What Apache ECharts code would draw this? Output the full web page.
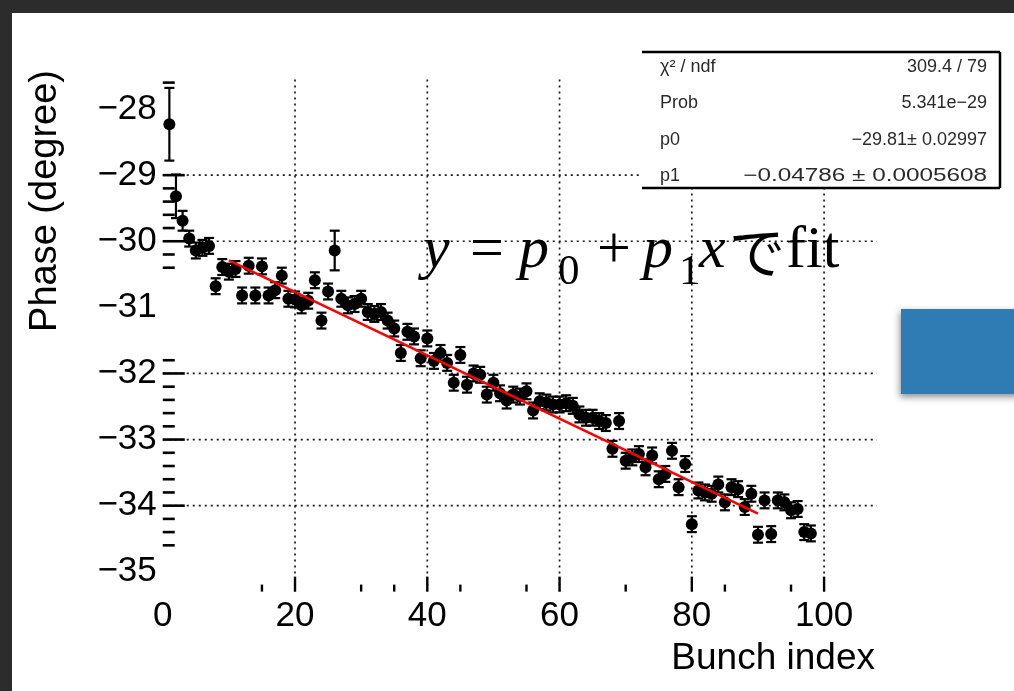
<!DOCTYPE html>
<html><head><meta charset="utf-8">
<script src="https://cdn.jsdelivr.net/npm/echarts@6/dist/echarts.min.js"></script>
<style>html,body{margin:0;padding:0;background:#fff}#c{width:1014px;height:691px}</style>
</head><body><div id="c"></div>
<script>
// ---------------- data ----------------
const bunch = [1,2,3,4,5,6,7,8,9,10,11,12,13,14,15,16,17,18,19,20,21,22,23,24,25,26,27,28,29,30,31,32,33,34,35,36,37,38,39,40,41,42,43,44,45,46,47,48,49,50,51,52,53,54,55,56,57,58,59,60,61,62,63,64,65,66,67,68,69,70,71,72,73,74,75,76,77,78,79,80,81,82,83,84,85,86,87,88,89,90,91,92,93,94,95,96,97,98];
const phase = [-28.23,-29.32,-29.69,-29.96,-30.14,-30.10,-30.07,-30.68,-30.39,-30.46,
  -30.42,-30.82,-30.37,-30.82,-30.38,-30.82,-30.74,-30.52,-30.87,-30.88,
  -30.97,-30.90,-30.59,-31.20,-30.76,-30.14,-30.87,-30.97,-30.95,-30.87,
  -31.07,-31.10,-31.07,-31.20,-31.32,-31.69,-31.37,-31.44,-31.77,-31.47,
  -31.81,-31.69,-31.84,-32.14,-31.72,-32.17,-32.00,-32.02,-32.32,-32.14,
  -32.30,-32.41,-32.32,-32.35,-32.27,-32.56,-32.42,-32.44,-32.47,-32.47,
  -32.45,-32.49,-32.62,-32.67,-32.67,-32.72,-32.75,-33.14,-32.72,-33.32,
  -33.27,-33.22,-33.42,-33.24,-33.60,-33.52,-33.17,-33.72,-33.37,-34.28,
  -33.77,-33.80,-33.82,-33.68,-33.95,-33.72,-33.75,-34.02,-33.82,-34.44,
  -33.92,-34.43,-33.92,-33.95,-34.07,-34.05,-34.40,-34.42];
const phaseErr = [0.55,0.33,0.15,0.12,0.12,0.12,0.12,0.12,0.12,0.12,
  0.12,0.12,0.12,0.12,0.12,0.12,0.12,0.12,0.12,0.12,
  0.12,0.12,0.12,0.12,0.12,0.30,0.12,0.12,0.12,0.12,
  0.12,0.12,0.12,0.12,0.12,0.12,0.12,0.12,0.12,0.12,
  0.12,0.12,0.12,0.12,0.12,0.12,0.12,0.12,0.12,0.12,
  0.12,0.12,0.12,0.12,0.12,0.12,0.12,0.12,0.12,0.12,
  0.12,0.12,0.12,0.12,0.12,0.12,0.12,0.12,0.12,0.12,
  0.12,0.12,0.12,0.12,0.12,0.12,0.12,0.12,0.12,0.12,
  0.12,0.12,0.12,0.12,0.12,0.12,0.12,0.12,0.12,0.12,
  0.12,0.12,0.12,0.12,0.12,0.12,0.12,0.12];
const fitX = [10, 90];
const fitY = [-30.29, -34.12];
const xLabels = [0, 20, 40, 60, 80, 100];
const yLabels = [-28, -29, -30, -31, -32, -33, -34, -35];
const xGrid = [20, 40, 60, 80, 100];
const yGrid = [-29, -30, -32, -33, -34];
const xMajorTicks = [20, 40, 60, 80, 100];
const xMinorTicks = [15, 30, 35, 45, 55, 70, 85, 95];
const yMajorTicks = [-29, -30, -32, -33, -34];
const yMinorTicks = [-27.6, -29.2, -29.4, -29.6, -29.8, -30.2, -30.4, -31.8, -32.2, -32.4, -32.6, -32.8, -33.2, -33.4, -33.6, -33.8, -34.2, -34.4, -34.6];
const statsRows = [['χ² / ndf', '309.4 / 79'], ['Prob', '5.341e−29'], ['p0', '−29.81± 0.02997'], ['p1', '−0.04786 ± 0.0005608']];
const xTitle = 'Bunch index';
const yTitle = 'Phase (degree)';

// ---------------- layout ----------------
const X_MIN = 0, X_MAX = 108, Y_MIN = -35.3, Y_MAX = -27.5;
const SANS = 'Liberation Sans, Arial, Helvetica, sans-serif';
const SERIF = 'Liberation Serif, Times New Roman, serif';
const minus = v => String(v).replace('-', '\u2212');

const chart = echarts.init(document.getElementById('c'), null, {renderer: 'canvas'});

function hLine(params, api) {
  const v = api.value(1);
  const a = api.coord([X_MIN, v]), b = api.coord([X_MAX, v]);
  return {type: 'line', shape: {x1: a[0], y1: a[1], x2: b[0], y2: b[1]},
    style: {stroke: '#1a1a1a', lineWidth: 1.7, lineDash: [2, 4]}};
}
function vLine(params, api) {
  const v = api.value(0);
  const a = api.coord([v, Y_MIN]), b = api.coord([v, Y_MAX]);
  return {type: 'line', shape: {x1: a[0], y1: a[1], x2: b[0], y2: b[1]},
    style: {stroke: '#1a1a1a', lineWidth: 1.7, lineDash: [2, 4]}};
}
function yTick(len) {
  return function (params, api) {
    const p = api.coord([X_MIN, api.value(1)]);
    return {type: 'line', shape: {x1: p[0], y1: p[1], x2: p[0] + len, y2: p[1]},
      style: {stroke: '#000', lineWidth: 2.6}};
  };
}
function xTick(len) {
  return function (params, api) {
    const p = api.coord([api.value(0), Y_MIN]);
    return {type: 'line', shape: {x1: p[0], y1: p[1], x2: p[0], y2: p[1] - len},
      style: {stroke: '#000', lineWidth: 2.4}};
  };
}
function errBar(params, api) {
  const x = api.value(0), y = api.value(1), e = api.value(2);
  const t = api.coord([x, y + e]), b = api.coord([x, y - e]);
  const w = 5;
  const st = {stroke: '#000', lineWidth: 2.2};
  return {type: 'group', children: [
    {type: 'line', shape: {x1: t[0], y1: t[1], x2: b[0], y2: b[1]}, style: st},
    {type: 'line', shape: {x1: t[0] - w, y1: t[1], x2: t[0] + w, y2: t[1]}, style: st},
    {type: 'line', shape: {x1: b[0] - w, y1: b[1], x2: b[0] + w, y2: b[1]}, style: st}
  ]};
}

const points = bunch.map((b, i) => [b, phase[i]]);
const errs = bunch.map((b, i) => [b, phase[i], phaseErr[i]]);

// formula pieces
const fSize = 60, subSize = 43, mainY = 251, subY = 273;
const formula = [
  {t: 'y', x: 423, y: mainY, it: true},
  {t: '=', x: 470, y: mainY},
  {t: 'p', x: 519, y: mainY, it: true},
  {t: '0', x: 558, y: subY, s: subSize},
  {t: '+', x: 597, y: mainY},
  {t: 'p', x: 643, y: mainY, it: true},
  {t: '1', x: 679, y: subY, s: subSize},
  {t: 'x', x: 699, y: mainY, it: true},
  {t: 'で', x: 729, y: mainY + 1, s: 56, f: 'Noto Sans CJK JP'},
  {t: 'fit', x: 786, y: mainY}
].map(o => ({type: 'text', x: o.x, y: o.y, z: 60, style: {
  text: o.t, fill: '#000', fontSize: o.s || fSize, fontFamily: o.f || SERIF,
  fontStyle: o.it ? 'italic' : 'normal', align: 'left', verticalAlign: 'middle'}}));

// stats box
const BX = 642, BY = 52, BW = 358, BH = 136;
const statsEls = [
  {type: 'rect', shape: {x: BX, y: BY, width: BW, height: BH}, style: {fill: '#fff'}, z: 50},
  {type: 'line', shape: {x1: BX, y1: BY, x2: BX + BW, y2: BY}, style: {stroke: '#000', lineWidth: 2.5}, z: 51},
  {type: 'line', shape: {x1: BX, y1: BY + BH, x2: BX + BW, y2: BY + BH}, style: {stroke: '#000', lineWidth: 2.5}, z: 51},
  {type: 'line', shape: {x1: BX + BW, y1: BY, x2: BX + BW, y2: BY + BH}, style: {stroke: '#000', lineWidth: 2.5}, z: 51}
];
const valueStretch = [1, 1, 1, 1.35];
statsRows.forEach((r, i) => {
  const cy = BY + 15 + i * 36.5;
  statsEls.push({type: 'text', x: 660, y: cy, z: 52, style: {text: r[0], fill: '#2a2a2a', fontSize: 18, fontFamily: SANS, align: 'left', verticalAlign: 'middle'}});
  statsEls.push({type: 'text', x: 987, y: cy, z: 52, scaleX: valueStretch[i], style: {text: r[1], fill: '#2a2a2a', fontSize: 18, fontFamily: SANS, align: 'right', verticalAlign: 'middle'}});
});

const option = {
  backgroundColor: '#fff',
  animation: false,
  grid: {left: 162.75, right: 137, top: 76, bottom: 99.4, outerBoundsMode: 'none', containLabel: false},
  xAxis: {type: 'value', min: X_MIN, max: X_MAX,
    axisLine: {show: false}, axisTick: {show: false}, splitLine: {show: false},
    axisLabel: {customValues: xLabels, fontSize: 35, color: '#000', fontFamily: SANS, margin: 7, formatter: minus}},
  yAxis: {type: 'value', min: Y_MIN, max: Y_MAX,
    axisLine: {show: false}, axisTick: {show: false}, splitLine: {show: false},
    axisLabel: {customValues: yLabels, fontSize: 35, color: '#000', fontFamily: SANS, margin: 6, formatter: minus}},
  series: [
    {type: 'custom', name: 'ygrid', renderItem: hLine, data: yGrid.map(v => [X_MIN, v]), z: 1, silent: true},
    {type: 'custom', name: 'xgrid', renderItem: vLine, data: xGrid.map(v => [v, Y_MIN]), z: 1, silent: true},
    {type: 'custom', name: 'yMaj', renderItem: yTick(22), data: yMajorTicks.map(v => [X_MIN, v]), z: 2, silent: true},
    {type: 'custom', name: 'yMin', renderItem: yTick(12), data: yMinorTicks.map(v => [X_MIN, v]), z: 2, silent: true},
    {type: 'custom', name: 'xMaj', renderItem: xTick(15), data: xMajorTicks.map(v => [v, Y_MIN]), z: 2, silent: true},
    {type: 'custom', name: 'xMin', renderItem: xTick(7), data: xMinorTicks.map(v => [v, Y_MIN]), z: 2, silent: true},
    {type: 'custom', name: 'err', renderItem: errBar, data: errs, z: 3, silent: true},
    {type: 'scatter', name: 'phase', data: points, symbol: 'circle', symbolSize: 12,
      itemStyle: {color: '#000', opacity: 1}, z: 4, silent: true},
    {type: 'line', name: 'fit', data: fitX.map((x, i) => [x, fitY[i]]), showSymbol: false,
      lineStyle: {color: '#ff0000', width: 2.6, opacity: 1}, z: 5, silent: true}
  ],
  graphic: [
    {type: 'rect', shape: {x: 0, y: 0, width: 12, height: 691}, style: {fill: '#2c2c2c'}, z: 100},
    {type: 'rect', shape: {x: 0, y: 0, width: 1014, height: 13}, style: {fill: '#2c2c2c'}, z: 100},
    {type: 'rect', shape: {x: 901, y: 309, width: 120, height: 85}, z: 90,
      style: {fill: '#2f7bb4', shadowBlur: 7, shadowColor: 'rgba(0,0,0,0.45)', shadowOffsetX: -1, shadowOffsetY: 3}},
    {type: 'text', x: 46, y: 70, rotation: Math.PI / 2, z: 60,
      style: {text: yTitle, fontSize: 38, fontFamily: SANS, fill: '#000', align: 'right', verticalAlign: 'middle'}},
    {type: 'text', x: 875, y: 659, z: 60,
      style: {text: xTitle, fontSize: 37, fontFamily: SANS, fill: '#000', align: 'right', verticalAlign: 'middle'}}
  ].concat(statsEls).concat(formula)
};
chart.setOption(option);
</script>
</body></html>
